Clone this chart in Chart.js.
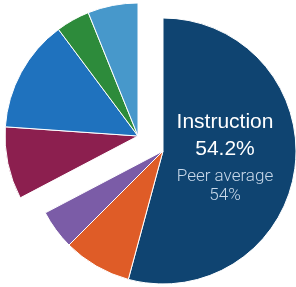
<!DOCTYPE html>
<html>
<head>
<meta charset="utf-8">
<script src="https://cdn.jsdelivr.net/npm/chart.js@4.4.0/dist/chart.umd.min.js"></script>
<style>
  html, body { margin: 0; padding: 0; background: #fff; }
  #wrap { width: 296px; height: 287px; position: relative; }
</style>
</head>
<body>
<div id="wrap"><canvas id="pie"></canvas></div>
<script>
// spending shares (%), clockwise from 12 o'clock
const categories = ['Instruction', 'Student support', 'Instructional support', 'Operations', 'Administration', 'Leadership', 'Other'];
const shares = [54.2, 8.3, 4.8, 8.8, 13.7, 4.1, 6.1];
const peerAverage = 54;
const colors = ['#0f4471', '#df5c27', '#7b5ca7', '#8c1f4f', '#1f72be', '#2d8b3b', '#4798cb'];

// two groups of slices are pulled apart
const groupA = [0, 1, 2];
const shiftA = { x: 15, y: 7.5 };
const shiftB = { x: -10, y: -7.5 };

const splitPie = {
    id: 'splitPie',
    afterDatasetUpdate(chart, args) {
        const meta = chart.getDatasetMeta(args.index);
        meta.data.forEach((arc, i) => {
            const s = groupA.includes(i) ? shiftA : shiftB;
            arc.x += s.x;
            arc.y += s.y;
        });
    }
};

const centerText = {
    id: 'centerText',
    afterDatasetsDraw(chart) {
        const ctx = chart.ctx;
        const cx = 225;
        ctx.save();
        ctx.textAlign = 'center';
        ctx.textBaseline = 'alphabetic';
        ctx.fillStyle = '#ffffff';
        ctx.font = '21px "Liberation Sans", Arial, sans-serif';
        ctx.fillText(categories[0], cx, 128);
        ctx.fillText(shares[0].toFixed(1) + '%', cx, 155);
        ctx.fillStyle = '#c9d9ea';
        ctx.font = '300 17px Roboto, "Liberation Sans", sans-serif';
        ctx.fillText('Peer average', cx, 181);
        ctx.fillText(peerAverage + '%', cx, 200);
        ctx.restore();
    }
};

new Chart(document.getElementById('pie'), {
    type: 'pie',
    data: {
        labels: categories,
        datasets: [{
            data: shares,
            backgroundColor: colors,
            borderColor: '#ffffff',
            borderWidth: 1,
            radius: 133
        }]
    },
    options: {
        responsive: true,
        maintainAspectRatio: false,
        animation: false,
        events: [],
        layout: { padding: 0 },
        plugins: {
            legend: { display: false },
            tooltip: { enabled: false }
        }
    },
    plugins: [splitPie, centerText]
});
</script>
</body>
</html>
